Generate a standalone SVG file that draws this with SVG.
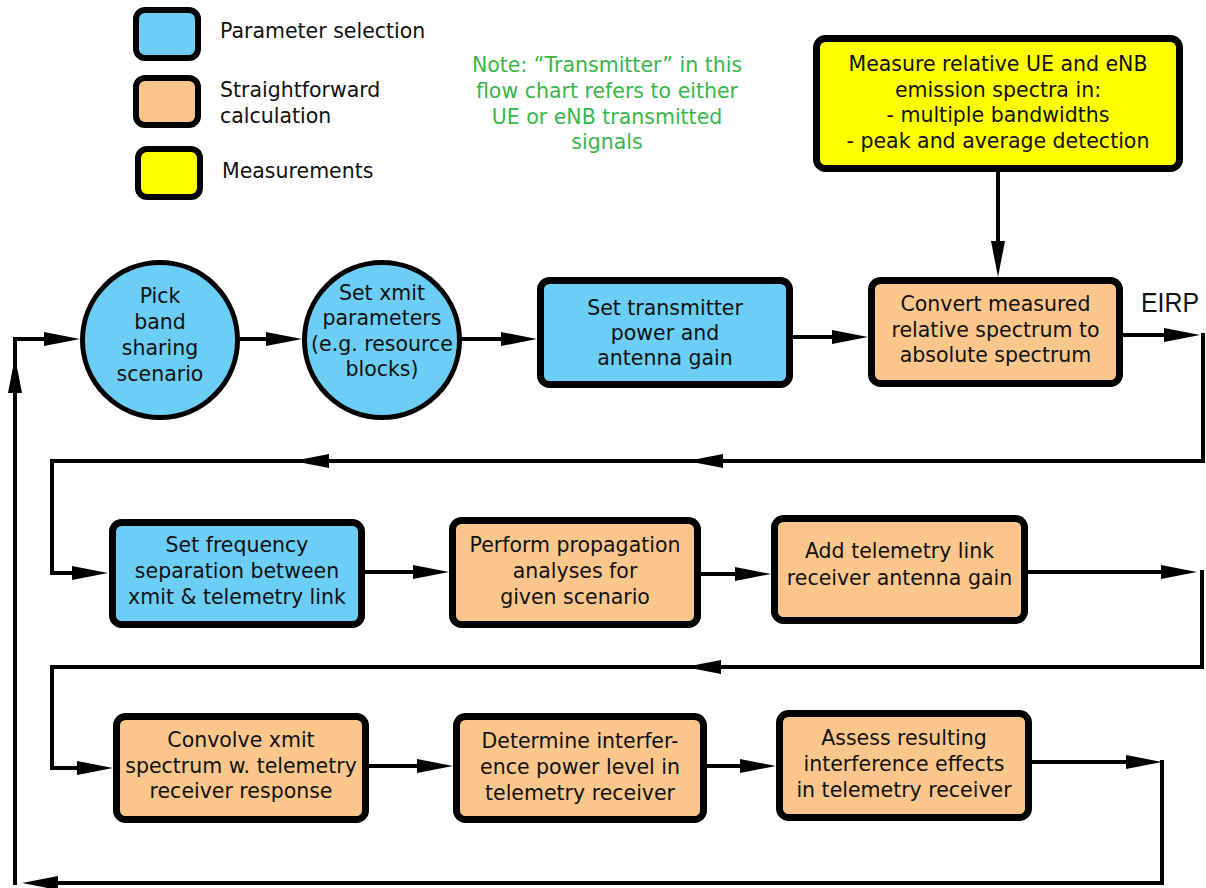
<svg xmlns="http://www.w3.org/2000/svg" width="1206" height="888" viewBox="0 0 1206 888">
<defs>
<style>
.bx{stroke:#000;stroke-width:7;}
.lg{stroke:#000;stroke-width:6;}
.blue{fill:#6ccef5;}
.orange{fill:#fbc68b;}
.yellow{fill:#ffff00;}
.ci{stroke:#000;stroke-width:5;fill:#6ccef5;}
text{font-family:"DejaVu Sans","Noto Sans",sans-serif;font-size:20.5px;fill:#111;}
.c{text-anchor:middle;}
.note{fill:#3ab54a;}
.eirp{font-family:"Liberation Sans",Arial,sans-serif;font-size:28px;}
.cn{fill:none;stroke:#000;stroke-width:4;stroke-linejoin:miter;}
.ar{marker-end:url(#ah);}
</style>
<marker id="ah" markerUnits="userSpaceOnUse" markerWidth="36" markerHeight="14" refX="24" refY="7" orient="auto">
<path d="M0,0 L36,7 L0,14 Z" fill="#000"/>
</marker>
</defs>
<rect width="1206" height="888" fill="#fff"/>

<g id="legend">
<rect class="lg blue" x="136" y="10" width="62" height="48" rx="9"/>
<text x="220" y="38">Parameter selection</text>
<rect class="lg orange" x="136" y="78" width="62" height="47" rx="9"/>
<text x="220" y="97">Straightforward</text>
<text x="220" y="123">calculation</text>
<rect class="lg yellow" x="138" y="149" width="62" height="48" rx="9"/>
<text x="222" y="178">Measurements</text>
</g>

<g id="note">
<text class="c note" x="607" y="72">Note: “Transmitter” in this</text>
<text class="c note" x="607" y="98">flow chart refers to either</text>
<text class="c note" x="607" y="124">UE or eNB transmitted</text>
<text class="c note" x="607" y="149">signals</text>
</g>

<g id="connectors">
<path class="cn ar" d="M998,172 V265"/>
<path class="cn ar" d="M15,885 V369"/>
<path class="cn ar" d="M15,372 V339 H68"/>
<path class="cn ar" d="M240,339 H290"/>
<path class="cn ar" d="M462,339 H525"/>
<path class="cn ar" d="M793,337 H856"/>
<path class="cn ar" d="M1123,335 H1188"/>
<path class="cn ar" d="M1203,333 V461 H699"/>
<path class="cn ar" d="M700,461 H305"/>
<path class="cn ar" d="M306,461 H52 V573 H96"/>
<path class="cn ar" d="M365,572 H437"/>
<path class="cn ar" d="M701,574 H759"/>
<path class="cn ar" d="M1028,572 H1185"/>
<path class="cn ar" d="M1202,570 V667 H697"/>
<path class="cn ar" d="M698,667 H52 V768 H101"/>
<path class="cn ar" d="M369,766 H441"/>
<path class="cn ar" d="M707,766 H764"/>
<path class="cn ar" d="M1032,762 H1150"/>
<path class="cn ar" d="M1162,760 V883 H34"/>
</g>

<g id="measure">
<rect class="bx yellow" x="816.5" y="38.5" width="363" height="130" rx="9"/>
<text class="c" x="998" y="71">Measure relative UE and eNB</text>
<text class="c" x="998" y="97">emission spectra in:</text>
<text class="c" x="998" y="122">- multiple bandwidths</text>
<text class="c" x="998" y="148">- peak and average detection</text>
</g>

<g id="pick">
<circle class="ci" cx="160" cy="340" r="77.5"/>
<text class="c" x="160" y="303">Pick</text>
<text class="c" x="160" y="329">band</text>
<text class="c" x="160" y="355">sharing</text>
<text class="c" x="160" y="381">scenario</text>
</g>

<g id="xmit">
<circle class="ci" cx="382" cy="340" r="77.5"/>
<text class="c" x="382" y="300">Set xmit</text>
<text class="c" x="382" y="325">parameters</text>
<text class="c" x="382" y="351">(e.g. resource</text>
<text class="c" x="382" y="376">blocks)</text>
</g>

<g id="power">
<rect class="bx blue" x="540.5" y="280.5" width="249" height="104" rx="9"/>
<text class="c" x="665" y="315">Set transmitter</text>
<text class="c" x="665" y="340">power and</text>
<text class="c" x="665" y="365">antenna gain</text>
</g>

<g id="convert">
<rect class="bx orange" x="871.5" y="280.5" width="248" height="103" rx="9"/>
<text class="c" x="995.5" y="311">Convert measured</text>
<text class="c" x="995.5" y="337">relative spectrum to</text>
<text class="c" x="995.5" y="362">absolute spectrum</text>
</g>

<text class="eirp" x="1141" y="312" textLength="58" lengthAdjust="spacingAndGlyphs">EIRP</text>

<g id="freq">
<rect class="bx blue" x="112.5" y="522.5" width="249" height="102" rx="9"/>
<text class="c" x="237" y="552">Set frequency</text>
<text class="c" x="237" y="578">separation between</text>
<text class="c" x="237" y="604">xmit &amp; telemetry link</text>
</g>

<g id="propagation">
<rect class="bx orange" x="452.5" y="520.5" width="245" height="104" rx="9"/>
<text class="c" x="575" y="552">Perform propagation</text>
<text class="c" x="575" y="578">analyses for</text>
<text class="c" x="575" y="604">given scenario</text>
</g>

<g id="antenna">
<rect class="bx orange" x="774.5" y="518.5" width="250" height="102" rx="9"/>
<text class="c" x="899.5" y="558">Add telemetry link</text>
<text class="c" x="899.5" y="585">receiver antenna gain</text>
</g>

<g id="convolve">
<rect class="bx orange" x="116.5" y="716.5" width="249" height="103" rx="9"/>
<text class="c" x="241" y="747">Convolve xmit</text>
<text class="c" x="241" y="773">spectrum w. telemetry</text>
<text class="c" x="241" y="798">receiver response</text>
</g>

<g id="determine">
<rect class="bx orange" x="456.5" y="716.5" width="247" height="103" rx="9"/>
<text class="c" x="580" y="748">Determine interfer-</text>
<text class="c" x="580" y="774">ence power level in</text>
<text class="c" x="580" y="800">telemetry receiver</text>
</g>

<g id="assess">
<rect class="bx orange" x="779.5" y="713.5" width="249" height="104" rx="9"/>
<text class="c" x="904" y="745">Assess resulting</text>
<text class="c" x="904" y="771">interference effects</text>
<text class="c" x="904" y="797">in telemetry receiver</text>
</g>
</svg>
